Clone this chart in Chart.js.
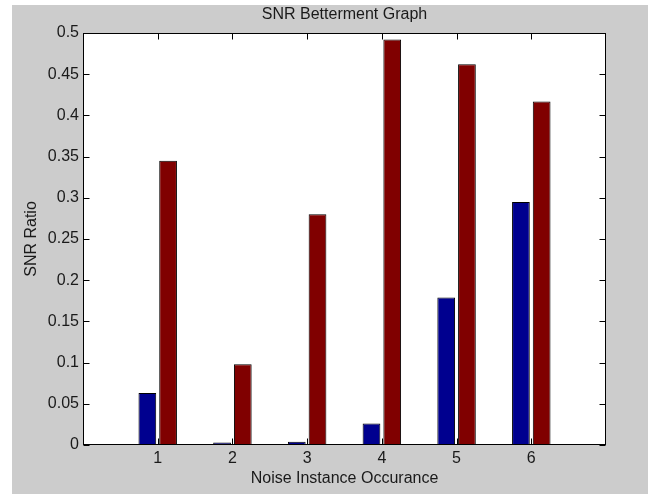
<!DOCTYPE html>
<html>
<head>
<meta charset="utf-8">
<script src="https://cdn.jsdelivr.net/npm/chart.js@4/dist/chart.umd.min.js"></script>
<style>
  html, body { margin: 0; padding: 0; background: #ffffff; }
  #wrap { width: 656px; height: 494px; }
</style>
</head>
<body>
<div id="wrap"><canvas id="c" width="656" height="494"></canvas></div>
<script>
// Noise instances along the x axis
const categories = ['1', '2', '3', '4', '5', '6'];
// SNR ratio per instance, first series (blue) and second series (dark red)
const snrSeriesA = [0.063, 0.003, 0.004, 0.026, 0.179, 0.295];
const snrSeriesB = [0.345, 0.098, 0.280, 0.492, 0.462, 0.417];
// y-axis range and step
const yMin = 0, yMax = 0.5, yStep = 0.05;

// pad the category axis so it runs from 0 to 7 like the axes box
const labels = [''].concat(categories, ['']);
const pad = arr => [null].concat(arr, [null]);

const FONT = { family: '"Liberation Sans", Arial, Helvetica, sans-serif', size: 16, weight: 'normal' };
const TEXT = '#1a1a1a';

// figure background, white axes box, box outline and inward tick marks
const axesBox = {
  id: 'axesBox',
  beforeDraw(chart) {
    const { ctx, chartArea: a } = chart;
    ctx.save();
    ctx.fillStyle = '#ffffff';
    ctx.fillRect(0, 0, chart.width, chart.height);
    ctx.fillStyle = '#cccccc';
    ctx.fillRect(12, 5, 636, chart.height - 5);
    ctx.fillStyle = '#ffffff';
    ctx.fillRect(a.left, a.top, a.right - a.left, a.bottom - a.top);
    ctx.restore();
  },
  afterDatasetsDraw(chart) {
    const { ctx, chartArea: a, scales } = chart;
    const L = Math.round(a.left) + 0.5, R = Math.round(a.right) - 0.5;
    const T = Math.round(a.top) + 0.5, B = Math.round(a.bottom) - 0.5;
    const len = 6;
    ctx.save();
    ctx.strokeStyle = '#000000';
    ctx.lineWidth = 1;
    ctx.beginPath();
    scales.y.ticks.forEach(t => {
      const py = Math.round(scales.y.getPixelForValue(t.value)) + 0.5;
      ctx.moveTo(L, py); ctx.lineTo(L + len, py);
      ctx.moveTo(R, py); ctx.lineTo(R - len, py);
    });
    categories.forEach((c, i) => {
      const px = Math.round(scales.x.getPixelForValue(i + 1)) + 0.5;
      ctx.moveTo(px, B); ctx.lineTo(px, B - len);
      ctx.moveTo(px, T); ctx.lineTo(px, T + len);
    });
    ctx.stroke();
    ctx.strokeStyle = '#000000';
    ctx.strokeRect(L, T, R - L, B - T);
    ctx.restore();
  }
};

const barStyle = {
  borderColor: '#000000',
  borderWidth: 1,
  borderSkipped: false,
  categoryPercentage: 0.555,
  barPercentage: 0.855
};

new Chart(document.getElementById('c'), {
  type: 'bar',
  data: {
    labels: labels,
    datasets: [
      Object.assign({ label: 'A', data: pad(snrSeriesA), backgroundColor: '#00008f' }, barStyle),
      Object.assign({ label: 'B', data: pad(snrSeriesB), backgroundColor: '#800000' }, barStyle)
    ]
  },
  options: {
    responsive: false,
    animation: false,
    devicePixelRatio: 1,
    layout: { padding: { left: 12, right: 50, top: 0, bottom: 0 } },
    plugins: {
      legend: { display: false },
      tooltip: { enabled: false }
    },
    scales: {
      // top axis only carries the chart title, centred over the axes box
      x2: {
        type: 'category',
        position: 'top',
        offset: false,
        grid: { display: false, drawTicks: false },
        border: { display: false },
        ticks: { display: false },
        title: {
          display: true,
          text: 'SNR Betterment Graph',
          color: TEXT,
          font: FONT,
          padding: { top: 5, bottom: 0 }
        },
        afterFit(scale) { scale.height = 33; }
      },
      x: {
        type: 'category',
        offset: false,
        grid: { display: false, drawTicks: false },
        border: { display: false },
        ticks: {
          color: TEXT,
          font: FONT,
          padding: 4,
          autoSkip: false,
          maxRotation: 0
        },
        title: {
          display: true,
          text: 'Noise Instance Occurance',
          color: TEXT,
          font: FONT,
          padding: { top: 0, bottom: 6 }
        },
        afterFit(scale) { scale.height = 49; }
      },
      y: {
        min: yMin,
        max: yMax,
        grid: { display: false, drawTicks: false },
        border: { display: false },
        ticks: {
          stepSize: yStep,
          color: TEXT,
          font: FONT,
          padding: 4,
          callback: v => String(+Number(v).toFixed(2))
        },
        title: {
          display: true,
          text: 'SNR Ratio',
          color: TEXT,
          font: FONT,
          padding: { top: 10, bottom: 0 }
        },
        afterFit(scale) { scale.width = 71; }
      }
    }
  },
  plugins: [axesBox]
});
</script>
</body>
</html>
